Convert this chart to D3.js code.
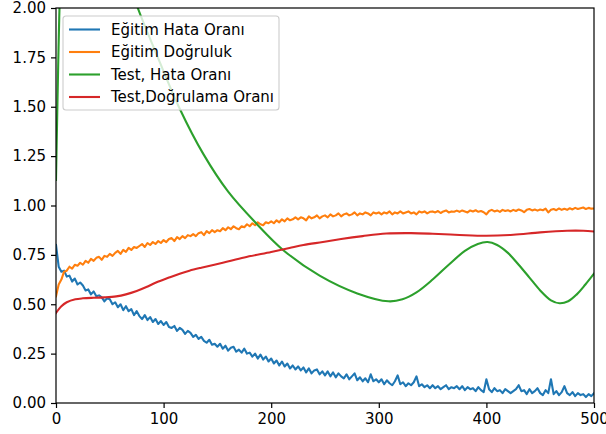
<!DOCTYPE html>
<html>
<head>
<meta charset="utf-8">
<script src="https://cdn.jsdelivr.net/npm/d3@7"></script>
<style>
  body { margin: 0; background: #fff; }
  text { font-family: "DejaVu Sans", sans-serif; }
</style>
</head>
<body>
<div id="chart"></div>
<script>
// training curves, one value every 2.5 epochs (0..500)
var epochStep = 2.5;
var trainLoss = [
  0.80, 0.69, 0.665, 0.67, 0.64, 0.645, 0.615, 0.63, 0.60, 0.61,
  0.595, 0.57, 0.575, 0.55, 0.565, 0.54, 0.545, 0.535, 0.515, 0.53,
  0.525, 0.50, 0.51, 0.485, 0.50, 0.47, 0.49, 0.465, 0.475, 0.445,
  0.465, 0.44, 0.425, 0.445, 0.42, 0.435, 0.41, 0.425, 0.40, 0.415,
  0.395, 0.41, 0.385, 0.38, 0.39, 0.365, 0.38, 0.37, 0.35, 0.365,
  0.355, 0.335, 0.345, 0.325, 0.335, 0.315, 0.305, 0.32, 0.295, 0.30,
  0.285, 0.30, 0.275, 0.29, 0.265, 0.28, 0.285, 0.26, 0.27, 0.255,
  0.275, 0.25, 0.255, 0.235, 0.25, 0.225, 0.245, 0.22, 0.235, 0.21,
  0.225, 0.20, 0.215, 0.19, 0.21, 0.185, 0.20, 0.175, 0.19, 0.17,
  0.185, 0.165, 0.18, 0.155, 0.175, 0.15, 0.165, 0.17, 0.145, 0.16,
  0.14, 0.16, 0.135, 0.155, 0.13, 0.15, 0.135, 0.125, 0.145, 0.12,
  0.135, 0.15, 0.115, 0.13, 0.11, 0.125, 0.105, 0.145, 0.11, 0.12,
  0.105, 0.12, 0.095, 0.115, 0.10, 0.09, 0.11, 0.14, 0.095, 0.105,
  0.085, 0.10, 0.09, 0.105, 0.135, 0.085, 0.095, 0.08, 0.09, 0.075,
  0.09, 0.075, 0.085, 0.07, 0.08, 0.09, 0.07, 0.08, 0.075, 0.085,
  0.07, 0.085, 0.065, 0.08, 0.07, 0.075, 0.06, 0.08, 0.065, 0.055,
  0.12, 0.07, 0.055, 0.075, 0.06, 0.065, 0.05, 0.07, 0.06, 0.05,
  0.06, 0.07, 0.09, 0.06, 0.065, 0.045, 0.07, 0.05, 0.06, 0.075,
  0.05, 0.04, 0.065, 0.05, 0.12, 0.045, 0.06, 0.04, 0.055, 0.085,
  0.05, 0.04, 0.055, 0.035, 0.05, 0.04, 0.045, 0.03, 0.045, 0.035,
  0.05
];
var trainAcc = [
  0.54, 0.60, 0.625, 0.665, 0.67, 0.69, 0.68, 0.70, 0.695, 0.71,
  0.70, 0.72, 0.71, 0.73, 0.72, 0.735, 0.74, 0.725, 0.745, 0.74,
  0.755, 0.745, 0.76, 0.77, 0.755, 0.775, 0.765, 0.785, 0.775, 0.79,
  0.785, 0.795, 0.805, 0.79, 0.81, 0.80, 0.815, 0.805, 0.82, 0.81,
  0.825, 0.815, 0.83, 0.835, 0.82, 0.84, 0.83, 0.845, 0.835, 0.85,
  0.845, 0.855, 0.845, 0.86, 0.865, 0.85, 0.87, 0.86, 0.875, 0.865,
  0.875, 0.87, 0.885, 0.875, 0.89, 0.88, 0.895, 0.885, 0.88, 0.895,
  0.89, 0.905, 0.895, 0.91, 0.90, 0.915, 0.905, 0.90, 0.915, 0.91,
  0.92, 0.91, 0.925, 0.915, 0.93, 0.92, 0.935, 0.925, 0.93, 0.94,
  0.93, 0.94, 0.935, 0.925, 0.945, 0.935, 0.94, 0.95, 0.935, 0.945,
  0.95, 0.94, 0.955, 0.945, 0.95, 0.96, 0.945, 0.955, 0.96, 0.95,
  0.955, 0.965, 0.95, 0.96, 0.955, 0.965, 0.96, 0.95, 0.965, 0.96,
  0.965, 0.955, 0.965, 0.96, 0.97, 0.955, 0.965, 0.96, 0.97, 0.96,
  0.965, 0.97, 0.96, 0.965, 0.955, 0.97, 0.965, 0.97, 0.96, 0.968,
  0.97, 0.965, 0.972, 0.962, 0.97, 0.975, 0.965, 0.97, 0.968, 0.974,
  0.968, 0.975, 0.97, 0.965, 0.975, 0.97, 0.976, 0.968, 0.972, 0.966,
  0.955, 0.972, 0.978, 0.97, 0.975, 0.968, 0.978, 0.972, 0.976, 0.97,
  0.978, 0.972, 0.98, 0.975, 0.966, 0.978, 0.982, 0.975, 0.98, 0.974,
  0.98, 0.976, 0.984, 0.965, 0.978, 0.982, 0.976, 0.985, 0.978, 0.983,
  0.978, 0.986, 0.98, 0.988, 0.982, 0.986, 0.99, 0.982, 0.988, 0.984,
  0.985
];

// smooth test curves, read at irregular epochs
var testLossEpochs = [0, 1, 2, 3, 5, 10, 20, 30, 40, 50, 60, 68, 76, 95, 115, 137, 160, 186, 211, 245,
  280, 309, 322, 335, 350, 365, 380, 392, 401, 410, 420, 430, 440, 450, 460, 468, 476, 484, 492, 500];
var testLoss = [1.13, 1.42, 1.7, 1.95, 2.35, 3.0, 3.3, 3.2, 2.9, 2.6, 2.33, 2.13, 2.0, 1.745, 1.49, 1.26, 1.07, 0.91, 0.775, 0.645,
  0.555, 0.515, 0.525, 0.56, 0.625, 0.70, 0.77, 0.805, 0.815, 0.80, 0.76, 0.70, 0.635, 0.57, 0.52, 0.505, 0.515, 0.55, 0.60, 0.655];

var testAccEpochs = [0, 5, 10, 18, 25, 35, 45, 56, 65, 75, 84, 93, 105, 115, 124, 135, 155, 175, 200, 217,
  230, 248, 265, 285, 307, 330, 350, 375, 400, 425, 450, 475, 490, 500];
var testAcc = [0.456, 0.49, 0.51, 0.525, 0.53, 0.533, 0.535, 0.54, 0.55, 0.567, 0.587, 0.61, 0.635, 0.655, 0.67, 0.685, 0.71, 0.737, 0.765, 0.785,
  0.80, 0.815, 0.83, 0.845, 0.858, 0.86, 0.857, 0.851, 0.847, 0.852, 0.864, 0.872, 0.872, 0.868];

var labels = ["Eğitim Hata Oranı", "Eğitim Doğruluk", "Test, Hata Oranı", "Test,Doğrulama Oranı"];
var colors = ["#1f77b4", "#ff7f0e", "#2ca02c", "#d62728"];
var xTicks = [0, 100, 200, 300, 400, 500];
var yTicks = [0, 0.25, 0.5, 0.75, 1.0, 1.25, 1.5, 1.75, 2.0];

var margins = { top: 8, left: 56, right: 12, bottom: 31 };
var width = 606 - margins.left - margins.right;
var height = 434 - margins.top - margins.bottom;

var svg = d3.select("#chart").append("svg")
        .attr("width", 606)
        .attr("height", 434);

var xScale = d3.scaleLinear().domain([0, 500]).range([0, width]);
var yScale = d3.scaleLinear().domain([0, 2]).range([height, 0]);

svg.append("clipPath").attr("id", "plotclip")
  .append("rect").attr("width", width).attr("height", height);

var plot = svg.append("g")
        .attr("transform", "translate(" + margins.left + "," + margins.top + ")");

var noisy = d3.line()
        .x(function(d, i) { return xScale(i * epochStep); })
        .y(function(d) { return yScale(d); });

var smooth = d3.line()
        .x(function(d) { return xScale(d[0]); })
        .y(function(d) { return yScale(d[1]); })
        .curve(d3.curveCatmullRom.alpha(0.5));

var lines = plot.append("g").attr("clip-path", "url(#plotclip)");
var series = [
        { path: noisy(trainLoss) },
        { path: noisy(trainAcc) },
        { path: smooth(d3.zip(testLossEpochs, testLoss)) },
        { path: smooth(d3.zip(testAccEpochs, testAcc)) }
];
series.forEach(function(s, i) {
        lines.append("path")
                .attr("d", s.path)
                .attr("fill", "none")
                .attr("stroke", colors[i])
                .attr("stroke-width", 2.1)
                .attr("stroke-linejoin", "round")
                .attr("stroke-linecap", "square");
});

// axes
var xAxis = d3.axisBottom(xScale).tickValues(xTicks).tickSize(5).tickSizeOuter(0).tickPadding(5)
        .tickFormat(d3.format("d"));
var yAxis = d3.axisLeft(yScale).tickValues(yTicks).tickSize(5).tickSizeOuter(0).tickPadding(5)
        .tickFormat(d3.format(".2f"));

var xg = plot.append("g").attr("transform", "translate(0," + height + ")").call(xAxis);
var yg = plot.append("g").call(yAxis);
[xg, yg].forEach(function(g) {
        g.select(".domain").remove();
        g.selectAll("line").attr("stroke", "#000").attr("stroke-width", 1.2);
        g.selectAll("text").attr("fill", "#000").style("font-size", "15px")
                .style("font-family", "'DejaVu Sans', sans-serif");
});

plot.append("rect")
        .attr("width", width).attr("height", height)
        .attr("fill", "none").attr("stroke", "#000").attr("stroke-width", 1.2);

// legend
var legend = plot.append("g").attr("transform", "translate(7,8)");
legend.append("rect")
        .attr("width", 216).attr("height", 94)
        .attr("rx", 3).attr("ry", 3)
        .attr("fill", "#fff").attr("fill-opacity", 0.8)
        .attr("stroke", "#ccc").attr("stroke-width", 1.1);
labels.forEach(function(s, i) {
        var y = 13.5 + i * 22.5;
        legend.append("line")
                .attr("x1", 6).attr("x2", 37)
                .attr("y1", y).attr("y2", y)
                .attr("stroke", colors[i]).attr("stroke-width", 2.1);
        legend.append("text")
                .attr("x", 48).attr("y", y)
                .attr("dy", "0.35em")
                .style("font-size", "15px")
                .attr("fill", "#000")
                .text(s);
});
</script>
</body>
</html>
